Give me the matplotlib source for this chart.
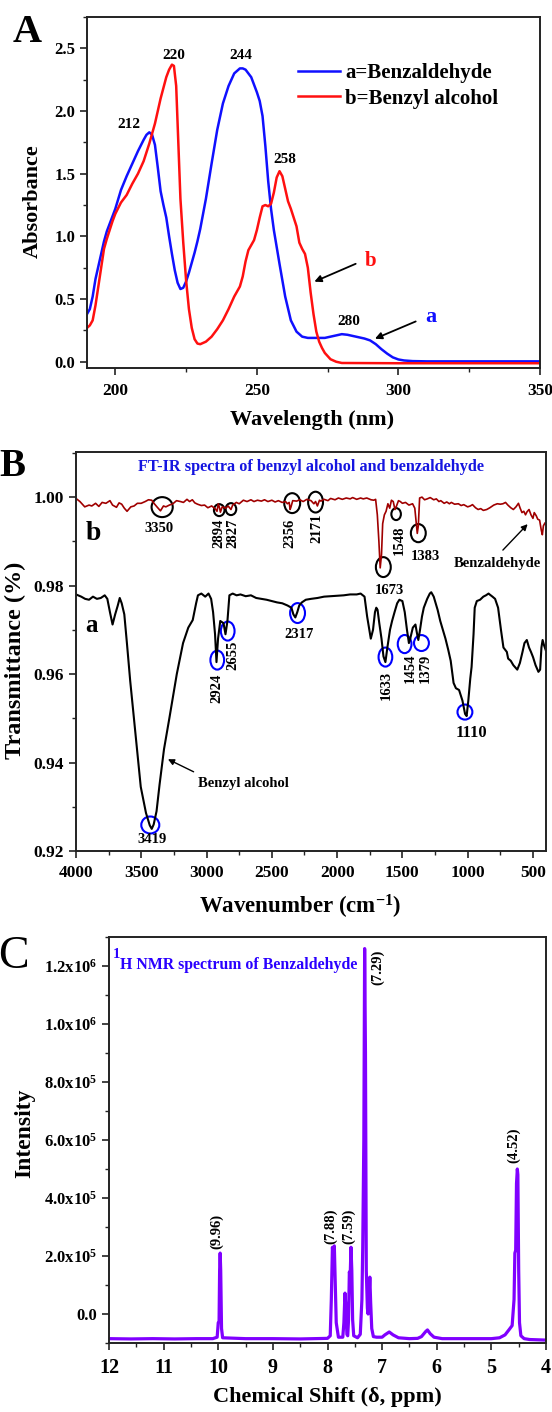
import matplotlib
matplotlib.use("Agg")
import matplotlib.pyplot as plt
from matplotlib.patches import Ellipse
from matplotlib.ticker import MultipleLocator

plt.rcParams['font.family'] = ['Liberation Serif', 'DejaVu Serif']
plt.rcParams['font.weight'] = 'bold'
plt.rcParams['mathtext.fontset'] = 'custom'
plt.rcParams['mathtext.rm'] = 'Liberation Serif:bold'
plt.rcParams['mathtext.bf'] = 'Liberation Serif:bold'
plt.rcParams['mathtext.default'] = 'rm'

# ---------------- Panel A data (UV-Vis) ----------------
wl_benzaldehyde = [190, 191, 192, 193, 194, 195, 196, 197, 198, 199, 200, 202, 204, 206, 208, 210, 211, 212,
                   213, 214, 215, 216, 217, 218, 219, 220, 221, 222, 223, 224, 225, 226, 227, 228, 229, 230,
                   232, 234, 236, 238, 240, 242, 244, 245, 246, 248, 250, 251, 252, 253, 254, 255, 256, 258,
                   260, 262, 264, 266, 268, 270, 272, 274, 276, 278, 280, 282, 284, 286, 288, 290, 292, 294,
                   296, 298, 300, 302, 305, 310, 320, 330, 340, 350]
abs_benzaldehyde = [0.38, 0.42, 0.52, 0.66, 0.76, 0.86, 0.96, 1.04, 1.10, 1.16, 1.22, 1.37, 1.48, 1.58, 1.68,
                    1.77, 1.81, 1.83, 1.81, 1.73, 1.55, 1.36, 1.25, 1.15, 1.00, 0.86, 0.73, 0.63, 0.58, 0.59,
                    0.64, 0.71, 0.79, 0.87, 0.96, 1.06, 1.30, 1.58, 1.85, 2.06, 2.20, 2.30, 2.34, 2.34, 2.33,
                    2.27, 2.15, 2.08, 1.96, 1.72, 1.44, 1.22, 1.05, 0.78, 0.52, 0.33, 0.24, 0.20, 0.19, 0.19,
                    0.19, 0.19, 0.20, 0.21, 0.22, 0.215, 0.205, 0.195, 0.185, 0.17, 0.14, 0.10, 0.065, 0.035,
                    0.018, 0.010, 0.005, 0.003, 0.003, 0.003, 0.003, 0.003]

wl_benzyl = [190, 191, 192, 193, 194, 195, 196, 197, 198, 199, 200, 202, 204, 206, 208, 210, 212, 213, 214,
             216, 218, 219, 220, 220.7, 221.5, 222, 223, 224, 225, 226, 227, 228, 229, 230, 232, 234, 236,
             238, 240, 242, 244, 245, 246, 247, 248, 249, 250, 251, 252, 253, 254, 255, 256, 257, 258, 259,
             260, 261, 262, 263, 264, 265, 266, 267, 268, 269, 270, 271, 272, 273, 274, 276, 278, 280, 300,
             350]
abs_benzyl = [0.27, 0.29, 0.33, 0.45, 0.60, 0.75, 0.90, 0.98, 1.05, 1.12, 1.18, 1.27, 1.33, 1.42, 1.50, 1.60,
              1.74, 1.82, 1.90, 2.10, 2.27, 2.33, 2.37, 2.36, 2.20, 1.90, 1.30, 0.95, 0.65, 0.42, 0.27, 0.18,
              0.145, 0.14, 0.16, 0.20, 0.26, 0.33, 0.42, 0.52, 0.60, 0.68, 0.80, 0.89, 0.93, 0.97, 1.05, 1.15,
              1.24, 1.25, 1.24, 1.26, 1.35, 1.47, 1.52, 1.48, 1.38, 1.28, 1.22, 1.15, 1.08, 0.95, 0.90, 0.86,
              0.75, 0.55, 0.38, 0.24, 0.16, 0.11, 0.07, 0.02, 0.0, -0.01, -0.012, -0.012]

uv_peak_labels = ["212", "220", "244", "258", "280"]
uv_peak_label_x = [204.7, 220.5, 244.5, 260.0, 282.5]
uv_peak_label_y = [1.89, 2.44, 2.44, 1.61, 0.32]

# ---------------- Panel B data (FT-IR) ----------------
wn_benzyl_alcohol = [4000, 3960, 3930, 3900, 3870, 3840, 3810, 3780, 3760, 3740, 3720, 3700, 3680, 3665, 3650,
                     3630, 3610, 3585, 3545, 3504, 3464, 3435, 3420, 3405, 3383, 3360, 3326, 3285, 3228, 3180,
                     3140, 3106, 3080, 3066, 3040, 3010, 2985, 2965, 2950, 2935, 2924, 2912, 2895, 2870, 2855,
                     2840, 2825, 2800, 2770, 2740, 2700, 2660, 2620, 2580, 2540, 2500, 2460, 2420, 2380, 2350,
                     2335, 2320, 2305, 2290, 2270, 2240, 2200, 2150, 2100, 2050, 2000, 1950, 1900, 1850, 1820,
                     1790, 1770, 1742, 1725, 1710, 1700, 1690, 1677, 1660, 1645, 1630, 1615, 1595, 1579, 1560,
                     1540, 1523, 1500, 1482, 1465, 1450, 1440, 1420, 1400, 1390, 1378, 1365, 1350, 1336, 1310,
                     1290, 1279, 1260, 1240, 1230, 1210, 1190, 1170, 1149, 1130, 1108, 1090, 1066, 1040, 1020,
                     1008, 995, 980, 970, 955, 946, 930, 905, 880, 860, 840, 832, 810, 790, 767, 745, 726, 700,
                     690, 670, 650, 635, 620, 600, 580, 565, 547, 530, 515, 499, 480, 458, 445, 435, 426, 415,
                     402]
t_benzyl_alcohol = [0.9780, 0.9775, 0.9770, 0.9768, 0.9775, 0.9770, 0.9772, 0.9778, 0.9770, 0.9740, 0.9712,
                    0.9735, 0.9755, 0.9772, 0.9760, 0.9735, 0.9670, 0.9585, 0.9467, 0.9345, 0.9286, 0.9258,
                    0.9250, 0.9260, 0.9290, 0.9350, 0.9430, 0.9500, 0.9600, 0.9670, 0.9705, 0.9722, 0.9760,
                    0.9778, 0.9782, 0.9775, 0.9782, 0.9770, 0.9740, 0.9690, 0.9627, 0.9680, 0.9720, 0.9715,
                    0.9690, 0.9720, 0.9778, 0.9782, 0.9778, 0.9780, 0.9776, 0.9778, 0.9772, 0.9770, 0.9768,
                    0.9765, 0.9762, 0.9760, 0.9755, 0.9750, 0.9735, 0.9728, 0.9740, 0.9755, 0.9762, 0.9768,
                    0.9770, 0.9772, 0.9775, 0.9776, 0.9777, 0.9778, 0.9780, 0.9780, 0.9782, 0.9775, 0.9730,
                    0.9680, 0.9700, 0.9740, 0.9750, 0.9745, 0.9715, 0.9680, 0.9640, 0.9627, 0.9660, 0.9700,
                    0.9720, 0.9740, 0.9760, 0.9768, 0.9765, 0.9740, 0.9700, 0.9670, 0.9680, 0.9705, 0.9712,
                    0.9695, 0.9677, 0.9700, 0.9730, 0.9750, 0.9770, 0.9782, 0.9785, 0.9775, 0.9755, 0.9745,
                    0.9720, 0.9700, 0.9680, 0.9655, 0.9630, 0.9580, 0.9568, 0.9564, 0.9540, 0.9510, 0.9505,
                    0.9540, 0.9590, 0.9616, 0.9690, 0.9750, 0.9765, 0.9768, 0.9775, 0.9778, 0.9782, 0.9780,
                    0.9775, 0.9770, 0.9750, 0.9700, 0.9660, 0.9650, 0.9635, 0.9630, 0.9620, 0.9615, 0.9610,
                    0.9625, 0.9650, 0.9670, 0.9677, 0.9660, 0.9650, 0.9638, 0.9620, 0.9605, 0.9610, 0.9660,
                    0.9677, 0.9665, 0.9654]

wn_benzaldehyde = [4000, 3970, 3933, 3900, 3879, 3850, 3825, 3800, 3771, 3740, 3720, 3690, 3670, 3650, 3630,
                   3609, 3580, 3555, 3530, 3501, 3470, 3445, 3420, 3400, 3380, 3353, 3330, 3312, 3285, 3258,
                   3230, 3200, 3177, 3150, 3130, 3109, 3090, 3069, 3040, 3015, 2990, 2961, 2935, 2920, 2910,
                   2900, 2894, 2880, 2853, 2835, 2813, 2800, 2772, 2750, 2718, 2690, 2660, 2637, 2610, 2580,
                   2556, 2530, 2500, 2475, 2450, 2421, 2395, 2381, 2367, 2360, 2353, 2340, 2310, 2286, 2260,
                   2232, 2200, 2178, 2165, 2151, 2135, 2124, 2100, 2070, 2050, 2016, 1990, 1960, 1930, 1900,
                   1881, 1850, 1820, 1800, 1773, 1740, 1719, 1705, 1692, 1680, 1670, 1660, 1651, 1638, 1625,
                   1611, 1597, 1584, 1570, 1557, 1545, 1530, 1516, 1500, 1476, 1450, 1422, 1405, 1395, 1386,
                   1378, 1368, 1350, 1330, 1310, 1287, 1260, 1240, 1220, 1206, 1180, 1160, 1140, 1125, 1100,
                   1071, 1050, 1030, 1000, 980, 963, 940, 920, 900, 880, 854, 830, 800, 773, 750, 730, 710, 692,
                   670, 650, 630, 611, 598, 584, 570, 557, 545, 530, 515, 500, 490, 475, 463, 449, 436, 428, 420,
                   409]
t_benzaldehyde = [0.9997, 0.9990, 0.9978, 0.9982, 0.9980, 0.9986, 0.9979, 0.9988, 0.9986, 0.9992, 0.9982,
                  0.9977, 0.9987, 0.9984, 0.9975, 0.9968, 0.9978, 0.9980, 0.9986, 0.9986, 0.9990, 0.9994,
                  0.9993, 0.9985, 0.9978, 0.9969, 0.9980, 0.9978, 0.9982, 0.9985, 0.9992, 0.9990, 0.9988,
                  0.9995, 0.9990, 0.9994, 0.9987, 0.9984, 0.9981, 0.9982, 0.9976, 0.9980, 0.9974, 0.9968,
                  0.9985, 0.9975, 0.9966, 0.9978, 0.9975, 0.9980, 0.9972, 0.9982, 0.9988, 0.9985, 0.9993,
                  0.9990, 0.9994, 0.9990, 0.9993, 0.9991, 0.9994, 0.9990, 0.9993, 0.9989, 0.9992, 0.9988,
                  0.9990, 0.9985, 0.9988, 0.9972, 0.9978, 0.9992, 0.9991, 0.9994, 0.9990, 0.9995, 0.9992,
                  0.9985, 0.9990, 0.9980, 0.9993, 0.9991, 0.9995, 0.9992, 0.9997, 0.9994, 0.9998, 0.9995,
                  0.9998, 0.9996, 0.9999, 0.9995, 0.9998, 0.9996, 0.9998, 0.9994, 0.9993, 0.9995, 0.9960,
                  0.9900, 0.9840, 0.9870, 0.9940, 0.9960, 0.9968, 0.9985, 0.9975, 0.9993, 0.9990, 0.9972,
                  0.9980, 0.9992, 0.9990, 0.9986, 0.9988, 0.9982, 0.9985, 0.9975, 0.9945, 0.9918, 0.9935,
                  0.9998, 1.0000, 0.9994, 0.9996, 0.9999, 0.9994, 0.9996, 0.9990, 0.9992, 0.9986, 0.9989,
                  0.9985, 0.9988, 0.9984, 0.9985, 0.9981, 0.9983, 0.9978, 0.9980, 0.9983, 0.9976, 0.9972,
                  0.9974, 0.9970, 0.9972, 0.9976, 0.9982, 0.9985, 0.9984, 0.9985, 0.9988, 0.9982, 0.9976,
                  0.9972, 0.9978, 0.9986, 0.9975, 0.9965, 0.9968, 0.9960, 0.9967, 0.9972, 0.9960, 0.9952,
                  0.9965, 0.9958, 0.9950, 0.9948, 0.9925, 0.9915, 0.9935, 0.9941]

# peak markers (black = benzaldehyde, blue = benzyl alcohol)
ir_b_circle_wn = [3340, 2903, 2813, 2344, 2165, 1646, 1548, 1378]
ir_b_circle_t = [0.99774, 0.99706, 0.99729, 0.99864, 0.99887, 0.98418, 0.99616, 0.99186]
ir_b_circle_w = [162, 81, 81, 122, 114, 114, 73, 114]
ir_b_circle_h = [0.00452, 0.0027, 0.0027, 0.0045, 0.0047, 0.0045, 0.0027, 0.0041]
ir_b_labels = ["3350", "2894", "2827", "2356", "2171", "1548", "1383", "1673"]
ir_b_label_wn = [3365, 2903, 2797, 2359, 2156, 1524, 1321, 1597]
ir_b_label_t = [0.9930, 0.99186, 0.99186, 0.99186, 0.9930, 0.99028, 0.98667, 0.97898]
ir_b_label_rot = [0, 90, 90, 90, 90, 90, 0, 0]

ir_a_circle_wn = [3431, 2918, 2838, 2303, 1630, 1483, 1354, 1021]
ir_a_circle_t = [0.92588, 0.96316, 0.96972, 0.97379, 0.96384, 0.96678, 0.96701, 0.95141]
ir_a_circle_w = [138, 105, 105, 114, 105, 105, 114, 114]
ir_a_circle_h = [0.00384, 0.0043, 0.0043, 0.0045, 0.0043, 0.0041, 0.0036, 0.0034]
ir_a_labels = ["3419", "2924", "2655", "2317", "1633", "1454", "1379", "1110"]
ir_a_label_wn = [3421, 2918, 2797, 2295, 1621, 1443, 1321, 972]
ir_a_label_t = [0.92271, 0.95684, 0.96429, 0.96904, 0.95751, 0.96136, 0.96136, 0.94667]
ir_a_label_rot = [0, 90, 90, 0, 90, 90, 90, 0]
ir_a_label_size = [10.5, 10.5, 10.5, 10.5, 10.5, 10.5, 10.5, 12]

# ---------------- Panel C data (1H NMR) ----------------
shift_ppm = [12.0, 11.6, 11.2, 10.8, 10.4, 10.1, 10.02, 10.0, 9.985, 9.975, 9.965, 9.955, 9.94, 9.92, 9.5,
             9.0, 8.5, 8.0, 7.95, 7.93, 7.91, 7.895, 7.875, 7.86, 7.84, 7.80, 7.72, 7.70, 7.68, 7.665, 7.645,
             7.63, 7.615, 7.60, 7.585, 7.57, 7.555, 7.54, 7.52, 7.45, 7.40, 7.37, 7.355, 7.335, 7.32, 7.305,
             7.29, 7.27, 7.257, 7.24, 7.225, 7.21, 7.19, 7.16, 7.10, 7.0, 6.95, 6.87, 6.80, 6.70, 6.50, 6.35,
             6.28, 6.20, 6.17, 6.12, 6.05, 5.9, 5.5, 5.0, 4.85, 4.75, 4.68, 4.62, 4.585, 4.57, 4.555, 4.54,
             4.525, 4.515, 4.50, 4.485, 4.46, 4.40, 4.3, 4.0]
nmr_intensity = [-0.85e5, -0.86e5, -0.85e5, -0.86e5, -0.85e5, -0.85e5, -0.80e5, -0.30e5, -0.25e5, 1.5e5,
                 2.1e5, 1.5e5, -0.5e5, -0.82e5, -0.85e5, -0.85e5, -0.86e5, -0.84e5, -0.75e5, 0.5e5, 2.3e5,
                 2.0e5, 2.35e5, 1.2e5, -0.3e5, -0.8e5, -0.8e5, -0.3e5, 0.72e5, 0.3e5, -0.7e5, -0.75e5,
                 -0.2e5, 1.45e5, 1.3e5, 2.3e5, 1.5e5, -0.2e5, -0.75e5, -0.82e5, -0.7e5, 0.5e5, 2.3e5, 6.0e5,
                 1.26e6, 9.0e5, 1.5e5, 0.2e5, 0.0, 0.6e5, 1.27e5, 0.4e5, -0.5e5, -0.78e5, -0.8e5, -0.8e5,
                 -0.72e5, -0.62e5, -0.72e5, -0.82e5, -0.85e5, -0.84e5, -0.78e5, -0.6e5, -0.55e5, -0.68e5,
                 -0.8e5, -0.85e5, -0.85e5, -0.85e5, -0.82e5, -0.72e5, -0.55e5, -0.4e5, 0.5e5, 2.1e5, 2.2e5,
                 4.5e5, 5.0e5, 4.8e5, 1.5e5, -0.3e5, -0.75e5, -0.85e5, -0.88e5, -0.9e5]

nmr_labels = ["(9.96)", "(7.88)", "(7.59)", "(4.52)"]
nmr_label_x = [10.03, 7.94, 7.61, 4.60]
nmr_label_y = [2.25e5, 2.4e5, 2.4e5, 5.2e5]
nmr_top_label = "(7.29)"

nmr_yticks = [0, 2e5, 4e5, 6e5, 8e5, 1.0e6, 1.2e6]
nmr_ytick_labels = ["0.0", "2.0x10$^{5}$", "4.0x10$^{5}$", "6.0x10$^{5}$", "8.0x10$^{5}$",
                    "1.0x10$^{6}$", "1.2x10$^{6}$"]
nmr_xticks = [12, 11, 10, 9, 8, 7, 6, 5, 4]

# ---------------- Figure ----------------
W, H = 552, 1412
fig = plt.figure(figsize=(W / 100, H / 100), dpi=100)


def axrect(l, t, r, b):
    return [l / W, 1 - b / H, (r - l) / W, (b - t) / H]


def fpos(x, y):
    return x / W, 1 - y / H


def style_axes(ax, lw=1.4):
    for s in ax.spines.values():
        s.set_linewidth(lw)
        s.set_color('#222222')
    ax.tick_params(which='major', direction='out', length=5, width=1.2, color='#222222')
    ax.tick_params(which='minor', direction='out', length=3, width=1.0, color='#222222')


# ---- Panel A ----
axA = fig.add_axes(axrect(87, 17, 540, 368))
axA.plot(wl_benzaldehyde, abs_benzaldehyde, color='#1010ff', lw=1.8, label='a=Benzaldehyde')
axA.plot(wl_benzyl, abs_benzyl, color='#ff1010', lw=1.8, label='b=Benzyl alcohol')
axA.set_xlim(190, 350)
axA.set_ylim(-0.05, 2.75)
axA.xaxis.set_major_locator(MultipleLocator(50))
axA.xaxis.set_minor_locator(MultipleLocator(25))
axA.yaxis.set_minor_locator(MultipleLocator(0.25))
axA.set_yticks([0, 0.5, 1.0, 1.5, 2.0, 2.5])
axA.set_yticklabels(["0.0", "0.5", "1.0", "1.5", "2.0", "2.5"])
style_axes(axA)
axA.tick_params(axis='x', labelsize=12.5, pad=6)
axA.tick_params(axis='y', labelsize=12)
for lab, x, y in zip(uv_peak_labels, uv_peak_label_x, uv_peak_label_y):
    axA.text(x, y, lab, ha='center', va='center', fontsize=11, fontweight='bold')
axA.annotate('', xy=(269.4, 0.63), xytext=(285.8, 0.79),
             arrowprops=dict(arrowstyle='-|>', color='black', lw=1.3, mutation_scale=10))
axA.text(290, 0.80, 'b', color='#ff1010', fontsize=15, fontweight='bold', ha='center', va='center')
axA.annotate('', xy=(290.8, 0.175), xytext=(307, 0.33),
             arrowprops=dict(arrowstyle='-|>', color='black', lw=1.3, mutation_scale=10))
axA.text(311.4, 0.36, 'a', color='#1010ff', fontsize=16, fontweight='bold', ha='center', va='center')
legA = axA.legend(loc='upper left', bbox_to_anchor=(0.466, 0.868), frameon=False,
                  prop={'family': 'Liberation Serif', 'weight': 'bold', 'size': 15},
                  handlelength=2.0, handletextpad=0.25, labelspacing=0.25, borderpad=0, borderaxespad=0)
for t in legA.get_texts():
    t.set_fontweight('bold')
fig.text(*fpos(33, 201), 'Absorbance', rotation=90, ha='center', va='center', fontsize=16,
         fontweight='bold')
fig.text(*fpos(312, 420), 'Wavelength (nm)', ha='center', va='center', fontsize=16, fontweight='bold')
fig.text(*fpos(27, 33), 'A', ha='center', va='center', fontsize=29, fontweight='bold')

# ---- Panel B ----
axB = fig.add_axes(axrect(76, 452, 546, 851))
axB.plot(wn_benzaldehyde, t_benzaldehyde, color='#a00000', lw=1.2)
axB.plot(wn_benzyl_alcohol, t_benzyl_alcohol, color='black', lw=1.5)
axB.set_xlim(4000, 400)
axB.set_ylim(0.92, 1.0102)
axB.xaxis.set_major_locator(MultipleLocator(500))
axB.xaxis.set_minor_locator(MultipleLocator(250))
axB.set_yticks([0.92, 0.94, 0.96, 0.98, 1.00])
axB.set_yticklabels(["0.92", "0.94", "0.96", "0.98", "1.00"])
axB.yaxis.set_minor_locator(MultipleLocator(0.01))
style_axes(axB)
axB.tick_params(axis='x', labelsize=12.5, pad=5)
axB.tick_params(axis='y', labelsize=12.5)
for cx, cy, w, h in zip(ir_b_circle_wn, ir_b_circle_t, ir_b_circle_w, ir_b_circle_h):
    axB.add_patch(Ellipse((cx, cy), w, h, fill=False, edgecolor='black', lw=1.5))
for lab, x, y, r in zip(ir_b_labels, ir_b_label_wn, ir_b_label_t, ir_b_label_rot):
    axB.text(x, y, lab, rotation=r, ha='center', va='center', fontsize=10.5, fontweight='bold')
for cx, cy, w, h in zip(ir_a_circle_wn, ir_a_circle_t, ir_a_circle_w, ir_a_circle_h):
    axB.add_patch(Ellipse((cx, cy), w, h, fill=False, edgecolor='#0000ff', lw=1.5))
for lab, x, y, r, s in zip(ir_a_labels, ir_a_label_wn, ir_a_label_t, ir_a_label_rot, ir_a_label_size):
    axB.text(x, y, lab, rotation=r, ha='center', va='center', fontsize=s, fontweight='bold')
axB.text(3868, 0.99186, 'b', fontsize=20, fontweight='bold', ha='center', va='center')
axB.text(3884, 0.97107, 'a', fontsize=18, fontweight='bold', ha='center', va='center')
axB.text(0.5, 0.962, 'FT-IR spectra of benzyl alcohol and benzaldehyde', transform=axB.transAxes,
         color='#1515e0', fontsize=11.7, fontweight='bold', ha='center', va='center')
axB.text(769, 0.98508, 'Benzaldehyde', fontsize=10.5, fontweight='bold', ha='center', va='center')
axB.annotate('', xy=(526, 0.99435), xytext=(745, 0.98757),
             arrowprops=dict(arrowstyle='-|>', color='black', lw=1.0, mutation_scale=9))
axB.text(2716, 0.93537, 'Benzyl alcohol', fontsize=10.5, fontweight='bold', ha='center', va='center')
axB.annotate('', xy=(3315, 0.94102), xytext=(3080, 0.93763),
             arrowprops=dict(arrowstyle='-|>', color='black', lw=1.0, mutation_scale=9))
fig.text(*fpos(15, 660), 'Transmittance (%)', rotation=90, ha='center', va='center', fontsize=17.5,
         fontweight='bold')
fig.text(*fpos(300, 907), 'Wavenumber (cm$^{-1}$)', ha='center', va='center', fontsize=16.5,
         fontweight='bold')
fig.text(*fpos(12, 466), 'B', ha='center', va='center', fontsize=28, fontweight='bold')

# ---- Panel C ----
axC = fig.add_axes(axrect(109, 937, 546, 1343))
axC.plot(shift_ppm, nmr_intensity, color='#8000ff', lw=2.3)
axC.set_xlim(12, 4)
axC.set_ylim(-1.0e5, 1.3e6)
axC.set_xticks(nmr_xticks)
axC.set_xticklabels([str(v) for v in nmr_xticks])
axC.xaxis.set_minor_locator(MultipleLocator(0.5))
axC.set_yticks(nmr_yticks)
axC.set_yticklabels(nmr_ytick_labels)
axC.yaxis.set_minor_locator(MultipleLocator(1e5))
style_axes(axC)
axC.tick_params(axis='x', labelsize=14.5, pad=6)
axC.tick_params(axis='y', labelsize=12)
for lab, x, y in zip(nmr_labels, nmr_label_x, nmr_label_y):
    axC.text(x, y, lab, rotation=90, ha='center', va='bottom', fontsize=10.5, fontweight='bold')
axC.text(7.09, 1.255e6, nmr_top_label, rotation=90, ha='center', va='top', fontsize=10.5, fontweight='bold')
axC.text(0.025, 0.93, 'H NMR spectrum of Benzaldehyde', transform=axC.transAxes, color='#2a00ff',
         fontsize=11.4, fontweight='bold', ha='left', va='center')
axC.text(0.009, 0.958, '1', transform=axC.transAxes, color='#2a00ff', fontsize=10.5, fontweight='bold',
         ha='left', va='center')
fig.text(*fpos(25, 1133), 'Intensity', rotation=90, ha='center', va='center', fontsize=17,
         fontweight='bold')
fig.text(*fpos(327, 1397), 'Chemical Shift (δ, ppm)', ha='center', va='center', fontsize=16,
         fontweight='bold')
fig.text(*fpos(13, 957), 'C', ha='center', va='center', fontsize=33, fontweight='normal')

fig.savefig('out.png', dpi=100)
